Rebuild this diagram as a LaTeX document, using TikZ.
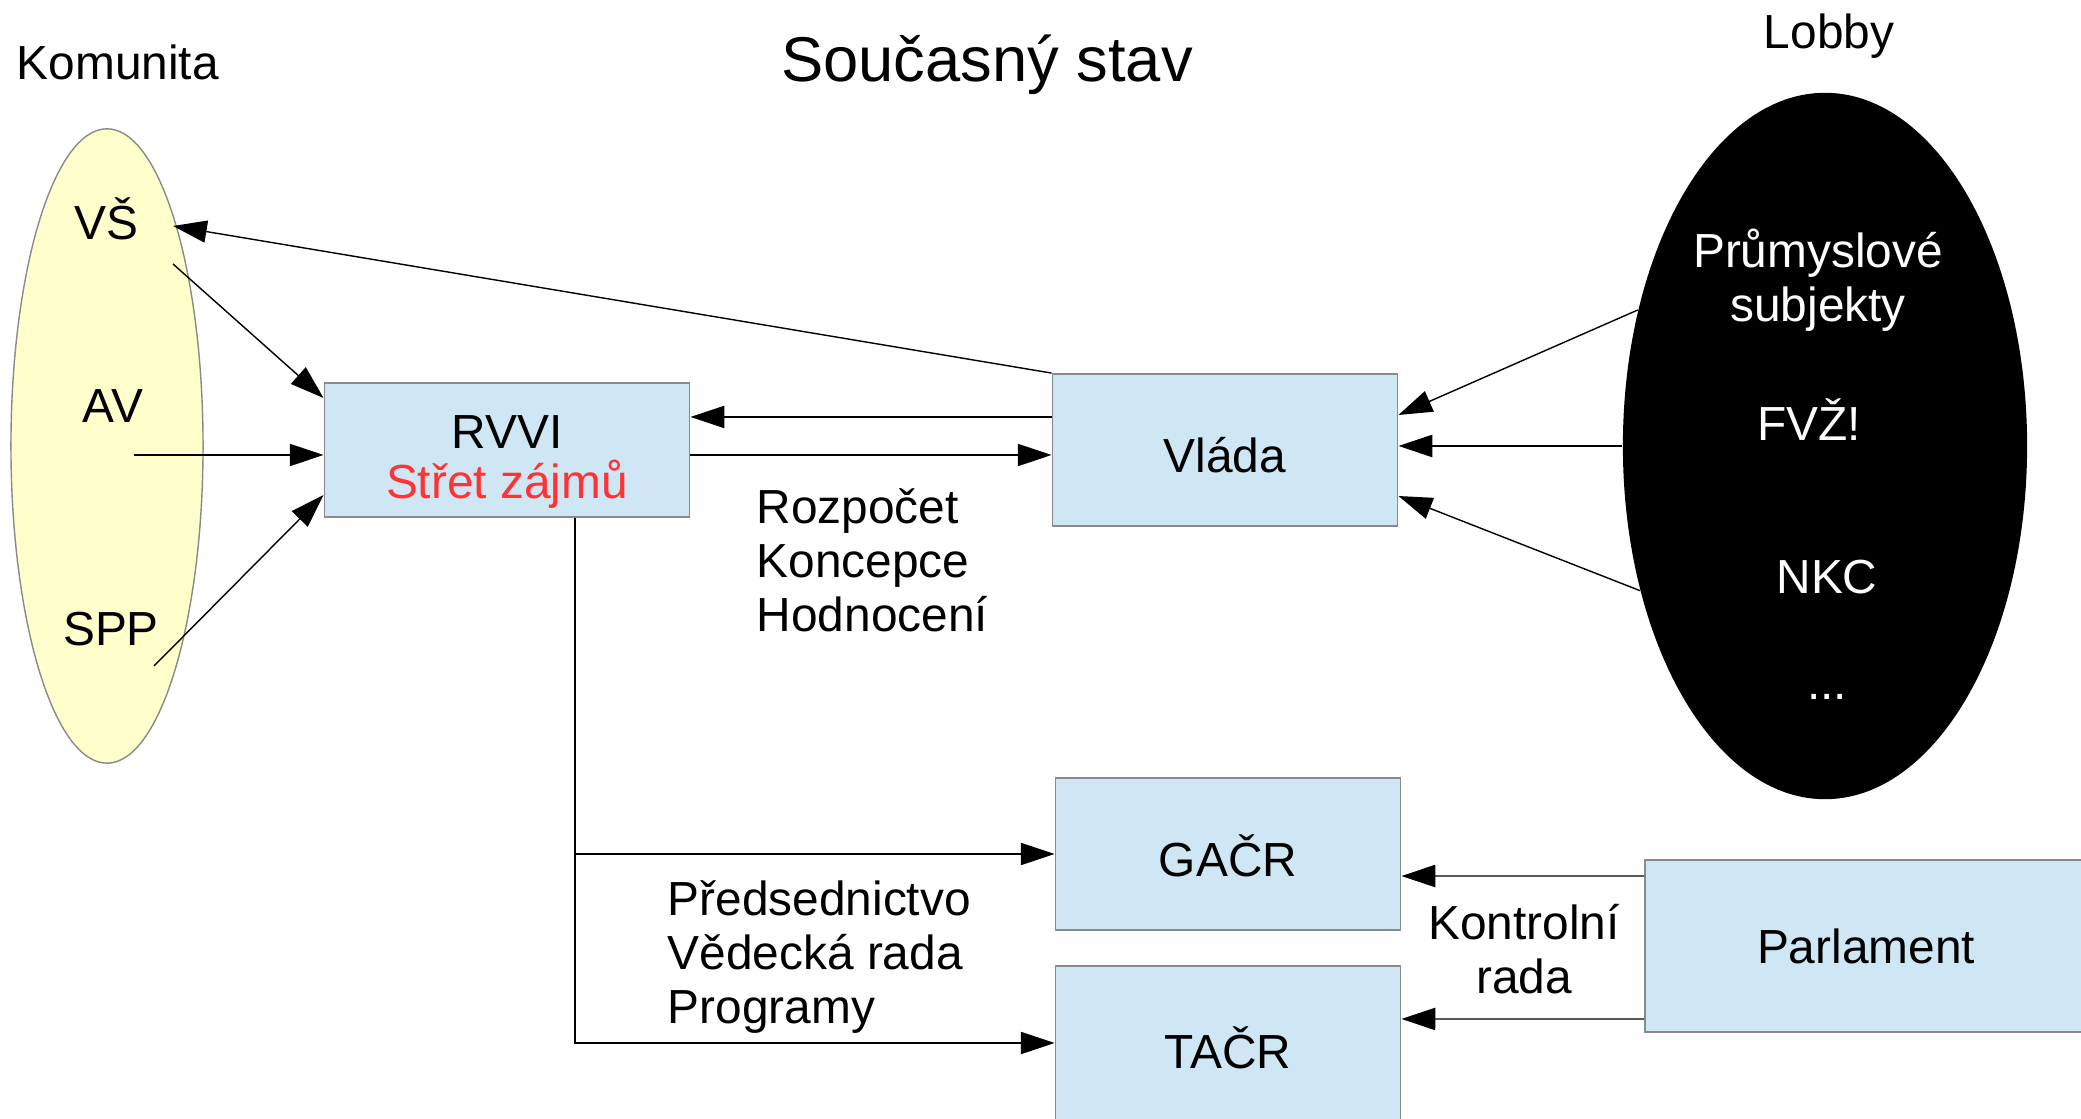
\documentclass[tikz,border=0pt]{standalone}
\usepackage{fontspec}
\setmainfont{Liberation Sans}
\usetikzlibrary{arrows.meta,shapes.geometric}

\definecolor{boxblue}{HTML}{CFE7F5}
\definecolor{boxline}{HTML}{8A8A8A}
\definecolor{komyellow}{HTML}{FFFFCC}
\definecolor{konflikt}{HTML}{FF3333}

\tikzset{
  organ/.style={draw=boxline, fill=boxblue, line width=0.5pt, inner sep=0pt},
  organtxt/.style={organ, text height=13pt, text depth=0pt},
  popis/.style={font=\fontsize{13.6}{15.4}\selectfont, inner sep=0pt},
  tok/.style={-{Triangle[length=9.6pt,width=6.3pt]}, line width=0.4pt},
}

\begin{document}
\begin{tikzpicture}[x=0.01cm, y=-0.01cm, every node/.style={popis}]
  \useasboundingbox (0,0) rectangle (2081,1119);
  \clip (0,0) rectangle (2081,1119);

  % Headings
  \node[font=\fontsize{18}{20}\selectfont] (nadpis) at (987,65) {Současný stav};
  \node[anchor=west] (komunita) at (16,62) {Komunita};
  \node (lobbytitle) at (1829,36) {Lobby};

  % Komunita
  \node[ellipse, draw=boxline, fill=komyellow, minimum width=1.92cm, minimum height=6.34cm] (kom) at (107,446) {};
  \node (vs) at (106,219) {VŠ};
  \node (av) at (113,406) {AV};
  \node (spp) at (111,629) {SPP};
  \coordinate (vsin) at (173,226);
  \coordinate (vsout) at (173,264);
  \coordinate (avout) at (134,455);
  \coordinate (sppout) at (154,666);

  % Boxes
  \node[organ, minimum width=3.65cm, minimum height=1.34cm] (rvvi) at (507,450) {};
  \node[align=center] (rvvitxt) at ([yshift=-0.12cm]rvvi.center) {RVVI\\[-1pt]\textcolor{konflikt}{Střet zájmů}};
  \node[organtxt, minimum width=3.45cm, minimum height=1.52cm] (vlada) at (1225,450) {Vláda};
  \node[organtxt, minimum width=3.45cm, minimum height=1.52cm] (gacr) at (1228,854) {GAČR};
  \node[organtxt, minimum width=3.45cm, minimum height=1.6cm] (tacr) at (1228,1046) {TAČR};
  \node[organ, minimum width=4.42cm, minimum height=1.72cm] (parlament) at (1866,946) {Parlament};

  % Lobby
  \node[ellipse, fill=black, minimum width=4.04cm, minimum height=7.06cm] (lobby) at (1825,446) {};
  \node[text=white, align=center] (prum) at (1818,280) {Průmyslové\\subjekty};
  \node[text=white] (fvz) at (1809,420) {FVŽ!};
  \node[text=white] (nkc) at (1827,577) {NKC};
  \node[text=white, anchor=base] (dalsi) at (1827,700) {...};

  % Labels
  \node[anchor=west, align=left] (rvvilbl) at (756,560) {Rozpočet\\Koncepce\\Hodnocení};
  \node[anchor=west, align=left] (grantlbl) at (667,957) {Předsednictvo\\Vědecká rada\\Programy};
  \node[align=center] (kontrola) at (1524,949) {Kontrolní\\rada};

  % Arrows
  \draw[tok] (vlada.north west) -- (vsin);
  \draw[tok] (vsout) -- ([yshift=0.52cm]rvvi.west);
  \draw[tok] (avout) -- (avout -| rvvi.west);
  \draw[tok] (sppout) -- ([yshift=-0.45cm]rvvi.west);
  \draw[tok] ([yshift=0.33cm]vlada.west) -- ([yshift=0.33cm]rvvi.east);
  \draw[tok] ([yshift=-0.05cm]rvvi.east) -- ([yshift=-0.05cm]vlada.west);
  \draw[tok] (lobby.144) -- ([yshift=0.35cm]vlada.east);
  \draw[tok] (lobby.west) -- (lobby.west -| vlada.east);
  \draw[tok] (lobby.218) -- ([yshift=-0.46cm]vlada.east);
  \draw[tok] ([xshift=0.68cm]rvvi.south) |- (gacr.west);
  \draw[tok] ([xshift=0.68cm]rvvi.south) |- ([yshift=0.03cm]tacr.west);
  \draw[tok] ([yshift=0.7cm]parlament.west) -- ([yshift=-0.22cm]gacr.east);
  \draw[tok] ([yshift=-0.73cm]parlament.west) -- ([yshift=0.27cm]tacr.east);
\end{tikzpicture}
\end{document}
